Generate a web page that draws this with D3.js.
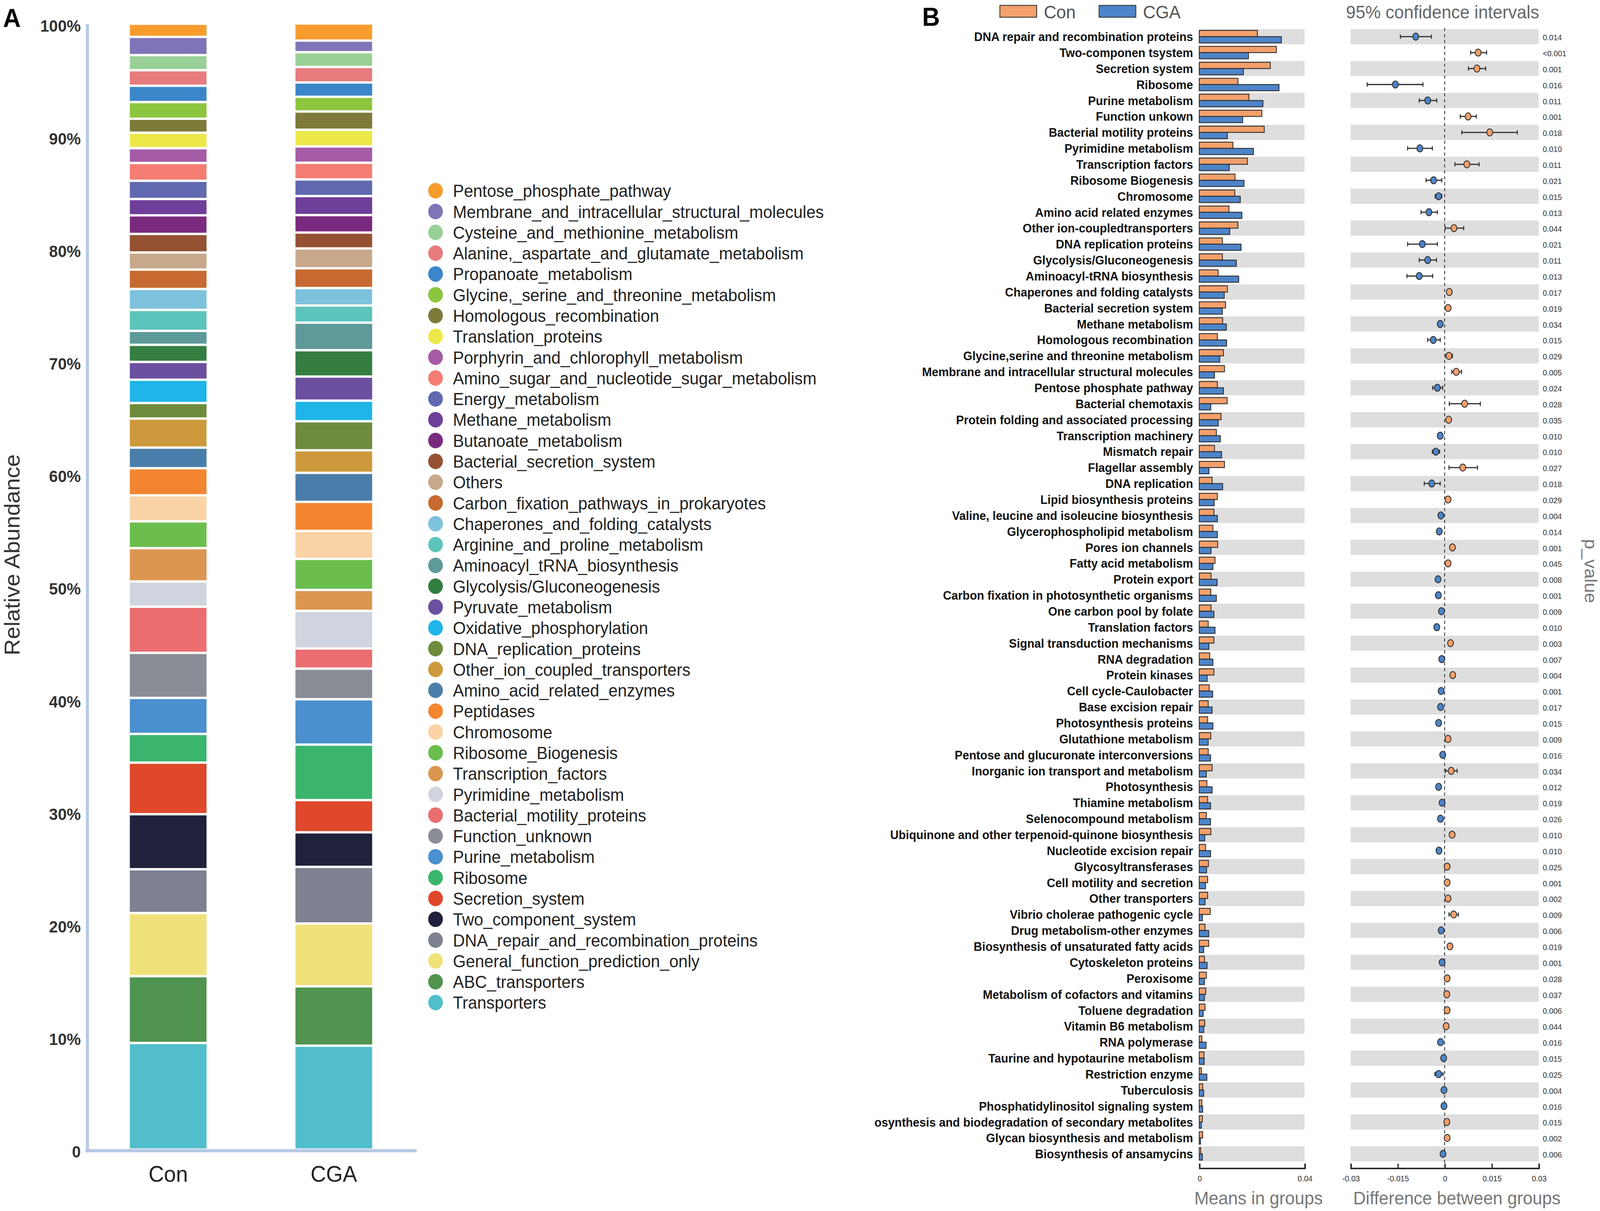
<!DOCTYPE html>
<html>
<head>
<meta charset="utf-8">
<script src="https://cdn.jsdelivr.net/npm/d3@7"></script>
<style>
  html, body { margin: 0; padding: 0; width: 100%; height: 100%; overflow: hidden; background: #fff; }
  #chart { width: 100vw; height: 100vh; }
  svg { display: block; }
</style>
</head>
<body>
<div id="chart"></div>
<script>
// ---------- panel A data (legend order, top of stack first) ----------
const funcCategories = [
  "Pentose_phosphate_pathway", "Membrane_and_intracellular_structural_molecules",
  "Cysteine_and_methionine_metabolism", "Alanine,_aspartate_and_glutamate_metabolism",
  "Propanoate_metabolism", "Glycine,_serine_and_threonine_metabolism",
  "Homologous_recombination", "Translation_proteins",
  "Porphyrin_and_chlorophyll_metabolism", "Amino_sugar_and_nucleotide_sugar_metabolism",
  "Energy_metabolism", "Methane_metabolism", "Butanoate_metabolism",
  "Bacterial_secretion_system", "Others", "Carbon_fixation_pathways_in_prokaryotes",
  "Chaperones_and_folding_catalysts", "Arginine_and_proline_metabolism",
  "Aminoacyl_tRNA_biosynthesis", "Glycolysis/Gluconeogenesis", "Pyruvate_metabolism",
  "Oxidative_phosphorylation", "DNA_replication_proteins", "Other_ion_coupled_transporters",
  "Amino_acid_related_enzymes", "Peptidases", "Chromosome", "Ribosome_Biogenesis",
  "Transcription_factors", "Pyrimidine_metabolism", "Bacterial_motility_proteins",
  "Function_unknown", "Purine_metabolism", "Ribosome", "Secretion_system",
  "Two_component_system", "DNA_repair_and_recombination_proteins",
  "General_function_prediction_only", "ABC_transporters", "Transporters"
];
const categoryColors = [
  "#f89c2e", "#8074b8", "#98d095", "#e77b7e", "#3a86c8", "#8cc63f", "#7e7a3a",
  "#ede84a", "#a65ba6", "#f47d73", "#6069b0", "#6e3f99", "#7a2a7e", "#955233",
  "#c8a88a", "#c76a31", "#7dc2dc", "#5dc4bc", "#5f9a9a", "#347e42", "#6b50a0",
  "#20b5e8", "#6e8b3d", "#cc9a3c", "#4a7eaa", "#f48530", "#f9d3a6", "#6bbe4e",
  "#dc9650", "#d0d4de", "#ea6e70", "#8a8d95", "#4a90ce", "#3bb56e", "#e0482b",
  "#20223c", "#7d8190", "#f0e27a", "#509450", "#52becb"
];
const conAbundance = [
  1.17, 1.62, 1.34, 1.38, 1.45, 1.48, 1.24, 1.38, 1.31, 1.58, 1.62, 1.45, 1.65, 1.65,
  1.52, 1.72, 1.86, 1.86, 1.24, 1.52, 1.58, 2.07, 1.38, 2.58, 1.83, 2.41, 2.31, 2.38,
  2.96, 2.24, 4.10, 4.00, 3.20, 2.55, 4.58, 4.89, 3.89, 5.61, 5.93, 9.47
];
const cgaAbundance = [
  1.52, 1.03, 1.31, 1.38, 1.27, 1.31, 1.62, 1.48, 1.45, 1.48, 1.48, 1.69, 1.55, 1.41,
  1.76, 1.76, 1.55, 1.52, 2.45, 2.34, 2.14, 1.83, 2.58, 2.00, 2.58, 2.58, 2.48, 2.76,
  1.86, 3.34, 1.79, 2.72, 4.03, 4.93, 2.86, 3.07, 5.03, 5.58, 5.27, 9.23
];
const groups = ["Con", "CGA"];
const yTickValues = [0, 10, 20, 30, 40, 50, 60, 70, 80, 90, 100];
const yTickLabels = ["0", "10%", "20%", "30%", "40%", "50%", "60%", "70%", "80%", "90%", "100%"];

// ---------- panel B data ----------
const pathways = [
  "DNA repair and recombination proteins", "Two-componen tsystem", "Secretion system",
  "Ribosome", "Purine metabolism", "Function unkown", "Bacterial motility proteins",
  "Pyrimidine metabolism", "Transcription factors", "Ribosome Biogenesis", "Chromosome",
  "Amino acid related enzymes", "Other ion-coupledtransporters", "DNA replication proteins",
  "Glycolysis/Gluconeogenesis", "Aminoacyl-tRNA biosynthesis",
  "Chaperones and folding catalysts", "Bacterial secretion system", "Methane metabolism",
  "Homologous recombination", "Glycine,serine and threonine metabolism",
  "Membrane and intracellular structural molecules", "Pentose phosphate pathway",
  "Bacterial chemotaxis", "Protein folding and associated processing",
  "Transcription machinery", "Mismatch repair", "Flagellar assembly", "DNA replication",
  "Lipid biosynthesis proteins", "Valine, leucine and isoleucine biosynthesis",
  "Glycerophospholipid metabolism", "Pores ion channels", "Fatty acid metabolism",
  "Protein export", "Carbon fixation in photosynthetic organisms",
  "One carbon pool by folate", "Translation factors", "Signal transduction mechanisms",
  "RNA degradation", "Protein kinases", "Cell cycle-Caulobacter", "Base excision repair",
  "Photosynthesis proteins", "Glutathione metabolism",
  "Pentose and glucuronate interconversions", "Inorganic ion transport and metabolism",
  "Photosynthesis", "Thiamine metabolism", "Selenocompound metabolism",
  "Ubiquinone and other terpenoid-quinone biosynthesis", "Nucleotide excision repair",
  "Glycosyltransferases", "Cell motility and secretion", "Other transporters",
  "Vibrio cholerae pathogenic cycle", "Drug metabolism-other enzymes",
  "Biosynthesis of unsaturated fatty acids", "Cytoskeleton proteins", "Peroxisome",
  "Metabolism of cofactors and vitamins", "Toluene degradation", "Vitamin B6 metabolism",
  "RNA polymerase", "Taurine and hypotaurine metabolism", "Restriction enzyme",
  "Tuberculosis", "Phosphatidylinositol signaling system",
  "osynthesis and biodegradation of secondary metabolites",
  "Glycan biosynthesis and metabolism", "Biosynthesis of ansamycins"
];
const conMeans = [
  0.0221, 0.0293, 0.0270, 0.0147, 0.0189, 0.0238, 0.0247, 0.0128, 0.0183, 0.0136,
  0.0135, 0.0113, 0.0147, 0.0088, 0.0088, 0.0072, 0.0107, 0.0100, 0.0089, 0.0069,
  0.0092, 0.0096, 0.0069, 0.0106, 0.0083, 0.0065, 0.0058, 0.0096, 0.0049, 0.0069,
  0.0056, 0.0052, 0.0070, 0.0060, 0.0045, 0.0044, 0.0045, 0.0034, 0.0056, 0.0040,
  0.0056, 0.0038, 0.0034, 0.0032, 0.0044, 0.0034, 0.0049, 0.0029, 0.0032, 0.0027,
  0.0044, 0.0024, 0.0035, 0.0032, 0.0032, 0.0042, 0.0022, 0.0036, 0.0020, 0.0027,
  0.0025, 0.0022, 0.0021, 0.0010, 0.0018, 0.0008, 0.0013, 0.0010, 0.0012, 0.0013,
  0.0006
];
const cgaMeans = [
  0.0312, 0.0187, 0.0168, 0.0303, 0.0242, 0.0165, 0.0107, 0.0206, 0.0114, 0.0170,
  0.0156, 0.0162, 0.0116, 0.0159, 0.0141, 0.0150, 0.0095, 0.0088, 0.0103, 0.0104,
  0.0078, 0.0058, 0.0092, 0.0044, 0.0072, 0.0080, 0.0085, 0.0037, 0.0089, 0.0057,
  0.0069, 0.0069, 0.0045, 0.0052, 0.0068, 0.0065, 0.0056, 0.0060, 0.0037, 0.0052,
  0.0030, 0.0051, 0.0049, 0.0052, 0.0034, 0.0043, 0.0027, 0.0049, 0.0043, 0.0043,
  0.0021, 0.0043, 0.0028, 0.0024, 0.0022, 0.0012, 0.0036, 0.0017, 0.0030, 0.0020,
  0.0020, 0.0015, 0.0017, 0.0026, 0.0019, 0.0029, 0.0017, 0.0013, 0.0008, 0.0005,
  0.0012
];
const meanDiff = [
  -0.0092, 0.0107, 0.0103, -0.0157, -0.0054, 0.0075, 0.0144, -0.0079, 0.0071, -0.0035,
  -0.0019, -0.0050, 0.0030, -0.0071, -0.0054, -0.0081, 0.0015, 0.0011, -0.0014, -0.0036,
  0.0014, 0.0037, -0.0023, 0.0064, 0.0013, -0.0014, -0.0028, 0.0058, -0.0041, 0.0011,
  -0.0012, -0.0017, 0.0025, 0.0011, -0.0021, -0.0020, -0.0010, -0.0025, 0.0019, -0.0009,
  0.0026, -0.0011, -0.0013, -0.0019, 0.0011, -0.0006, 0.0021, -0.0019, -0.0008, -0.0013,
  0.0024, -0.0018, 0.0008, 0.0008, 0.0011, 0.0029, -0.0011, 0.0017, -0.0008, 0.0008,
  0.0007, 0.0008, 0.0005, -0.0013, -0.0003, -0.0019, -0.0002, -0.0002, 0.0007, 0.0008,
  -0.0005
];
const ciLower = [
  -0.0141, 0.0083, 0.0076, -0.0247, -0.0081, 0.0050, 0.0055, -0.0118, 0.0033, -0.0059,
  -0.0030, -0.0075, 0.0002, -0.0118, -0.0081, -0.0120, 0.0008, 0.0004, -0.0020, -0.0054,
  0.0004, 0.0023, -0.0038, 0.0015, 0.0007, -0.0019, -0.0039, 0.0014, -0.0065, 0.0005,
  -0.0017, -0.0023, 0.0019, 0.0005, -0.0027, -0.0025, -0.0014, -0.0031, 0.0013, -0.0013,
  0.0020, -0.0015, -0.0017, -0.0025, 0.0006, -0.0009, 0.0003, -0.0024, -0.0012, -0.0017,
  0.0016, -0.0022, 0.0005, 0.0005, 0.0007, 0.0014, -0.0015, 0.0012, -0.0011, 0.0005,
  0.0004, 0.0005, 0.0002, -0.0017, -0.0005, -0.0031, -0.0004, -0.0004, 0.0005, 0.0005,
  -0.0008
];
const ciUpper = [
  -0.0042, 0.0134, 0.0131, -0.0069, -0.0025, 0.0101, 0.0232, -0.0039, 0.0110, -0.0009,
  -0.0009, -0.0023, 0.0061, -0.0023, -0.0026, -0.0038, 0.0023, 0.0019, -0.0006, -0.0014,
  0.0025, 0.0054, -0.0006, 0.0114, 0.0019, -0.0008, -0.0016, 0.0105, -0.0014, 0.0018,
  -0.0006, -0.0010, 0.0031, 0.0018, -0.0014, -0.0014, -0.0006, -0.0018, 0.0025, -0.0005,
  0.0032, -0.0007, -0.0009, -0.0013, 0.0016, -0.0003, 0.0040, -0.0014, -0.0004, -0.0009,
  0.0032, -0.0014, 0.0011, 0.0011, 0.0015, 0.0044, -0.0007, 0.0022, -0.0005, 0.0011,
  0.0010, 0.0011, 0.0008, -0.0009, -0.0001, -0.0005, 0.0000, 0.0000, 0.0009, 0.0011,
  -0.0002
];
const pValues = [
  "0.014", "<0.001", "0.001", "0.016", "0.011", "0.001", "0.018", "0.010", "0.011", "0.021",
  "0.015", "0.013", "0.044", "0.021", "0.011", "0.013", "0.017", "0.019", "0.034", "0.015",
  "0.029", "0.005", "0.024", "0.028", "0.035", "0.010", "0.010", "0.027", "0.018", "0.029",
  "0.004", "0.014", "0.001", "0.045", "0.008", "0.001", "0.009", "0.010", "0.003", "0.007",
  "0.004", "0.001", "0.017", "0.015", "0.009", "0.016", "0.034", "0.012", "0.019", "0.026",
  "0.010", "0.010", "0.025", "0.001", "0.002", "0.009", "0.006", "0.019", "0.001", "0.028",
  "0.037", "0.006", "0.044", "0.016", "0.015", "0.025", "0.004", "0.016", "0.015", "0.002",
  "0.006"
];
const meanTicks = [0, 0.04];
const meanTickLabels = ["0", "0.04"];
const diffTicks = [-0.03, -0.015, 0, 0.015, 0.03];
const diffTickLabels = ["-0.03", "-0.015", "0", "0.015", "0.03"];

const conColor = "#f3a06b";
const cgaColor = "#4d84c9";

// ---------- svg (drawn in a 1565 x 1124 frame, stretched over the window) ----------
const W = 1565, H = 1124;
const svg = d3.select("#chart")
  .append("svg")
  .attr("width", "100%")
  .attr("height", "100%")
  .attr("viewBox", `0 0 ${W} ${H}`)
  .attr("preserveAspectRatio", "none")
  .style("font-family", "'Liberation Sans', Arial, sans-serif");

// ================= panel A =================
svg.append("text").attr("x", 3).attr("y", 25)
  .text("A").style("font-size", "24px").style("font-weight", "bold");

const yA = d3.scaleLinear().domain([0, 100]).range([1067, 22]);
const xA = d3.scaleBand().domain(groups).range([83.5, 407.5])
  .paddingInner(0.537).paddingOuter(0.2685);

// stack from the bottom (Transporters) upwards
function stackSegments(values) {
  let acc = 0;
  const segs = [];
  for (let i = values.length - 1; i >= 0; i--) {
    segs.push({ cat: funcCategories[i], color: categoryColors[i], y0: acc, y1: acc + values[i] });
    acc += values[i];
  }
  return segs;
}
const stacks = [
  { group: "Con", segs: stackSegments(conAbundance) },
  { group: "CGA", segs: stackSegments(cgaAbundance) }
];

const barGroups = svg.selectAll(".stack")
  .data(stacks)
  .enter()
  .append("g")
  .attr("class", "stack");

barGroups.selectAll("rect")
  .data(d => d.segs.map(s => Object.assign({ group: d.group }, s)))
  .enter()
  .append("rect")
  .attr("x", d => xA(d.group))
  .attr("width", xA.bandwidth())
  .attr("y", d => yA(d.y1) + 1.1)
  .attr("height", d => Math.max(0.5, yA(d.y0) - yA(d.y1) - 2.2))
  .attr("fill", d => d.color);

// axes
const yAxisA = svg.append("g")
  .attr("transform", "translate(85,0)")
  .call(d3.axisLeft(yA).tickValues(yTickValues)
    .tickFormat((d, i) => yTickLabels[i]).tickSize(0).tickPadding(6));
yAxisA.select(".domain").attr("stroke", "#b7c9e3").attr("stroke-width", 3);
yAxisA.selectAll("text")
  .attr("dy", "0.45em")
  .style("font-size", "15.5px").style("fill", "#333").style("font-weight", "bold")
  .style("font-family", "'Liberation Sans', Arial, sans-serif");

const xAxisA = svg.append("g")
  .attr("transform", "translate(0,1068)")
  .call(d3.axisBottom(xA).tickSize(0).tickPadding(14));
xAxisA.select(".domain").attr("d", "M83.5,0H407.5").attr("stroke", "#b7c9e3").attr("stroke-width", 3);
xAxisA.selectAll("text")
  .style("font-size", "21px").style("fill", "#222")
  .style("font-family", "'Liberation Sans', Arial, sans-serif");

svg.append("text")
  .attr("transform", "translate(19,515) rotate(-90)")
  .attr("text-anchor", "middle")
  .text("Relative Abundance")
  .style("font-size", "21px").style("fill", "#333");

// legend
const legA = svg.selectAll(".legA")
  .data(funcCategories)
  .enter()
  .append("g")
  .attr("class", "legA")
  .attr("transform", (d, i) => `translate(426,${177 + i * 19.32})`);
legA.append("circle").attr("r", 7.2).attr("fill", (d, i) => categoryColors[i]);
legA.append("text").attr("x", 17).attr("dy", "0.36em")
  .text(d => d)
  .style("font-size", "16.2px").style("fill", "#222");

// ================= panel B =================
svg.append("text").attr("x", 902).attr("y", 24)
  .text("B").style("font-size", "24px").style("font-weight", "bold");

// top legend
const legB = svg.append("g");
[["Con", conColor, 978], ["CGA", cgaColor, 1075]].forEach(function(l) {
  legB.append("rect").attr("x", l[2]).attr("y", 5).attr("width", 36).attr("height", 11)
    .attr("fill", l[1]).attr("stroke", "#333").attr("stroke-width", 0.8);
  legB.append("text").attr("x", l[2] + 43).attr("y", 17).text(l[0])
    .style("font-size", "17px").style("fill", "#555");
});
svg.append("text").attr("x", 1411).attr("y", 17).attr("text-anchor", "middle")
  .text("95% confidence intervals").style("font-size", "17px").style("fill", "#666");

const yB = d3.scaleBand().domain(pathways).range([26.6, 1078.4]).paddingInner(0.05).paddingOuter(0.025);
const xMean = d3.scaleLinear().domain([0, 0.04]).range([1173, 1276]);
const xDiff = d3.scaleLinear().domain([-0.03, 0.03]).range([1321, 1505]);
const bw = yB.bandwidth();

const rows = pathways.map((p, i) => ({
  name: p, idx: i, con: conMeans[i], cga: cgaMeans[i],
  diff: meanDiff[i], lo: ciLower[i], hi: ciUpper[i], p: pValues[i]
}));

// alternating grey bands
const striped = rows.filter(d => d.idx % 2 === 0);
svg.selectAll(".bandMean")
  .data(striped).enter().append("rect")
  .attr("x", xMean(0)).attr("width", xMean(0.04) - xMean(0))
  .attr("y", d => yB(d.name)).attr("height", bw)
  .attr("fill", "#dedede");
svg.selectAll(".bandDiff")
  .data(striped).enter().append("rect")
  .attr("x", xDiff(-0.03)).attr("width", xDiff(0.03) - xDiff(-0.03))
  .attr("y", d => yB(d.name)).attr("height", bw)
  .attr("fill", "#dedede");

// row labels
svg.selectAll(".rowLabel")
  .data(rows).enter().append("text")
  .attr("class", "rowLabel")
  .attr("x", 1167)
  .attr("y", d => yB(d.name) + bw / 2)
  .attr("dy", "0.36em")
  .attr("text-anchor", "end")
  .text(d => d.name)
  .style("font-family", "'Liberation Sans Narrow', 'Arial Narrow', sans-serif")
  .style("font-weight", "bold")
  .style("font-size", "11.5px").style("fill", "#111");

// mean bars
const barH = bw * 0.41;
svg.selectAll(".conBar")
  .data(rows).enter().append("rect")
  .attr("x", xMean(0))
  .attr("y", d => yB(d.name) + bw * 0.09)
  .attr("width", d => xMean(d.con) - xMean(0))
  .attr("height", barH)
  .attr("fill", conColor).attr("stroke", "#2a2a2a").attr("stroke-width", 0.8);
svg.selectAll(".cgaBar")
  .data(rows).enter().append("rect")
  .attr("x", xMean(0))
  .attr("y", d => yB(d.name) + bw * 0.09 + barH)
  .attr("width", d => xMean(d.cga) - xMean(0))
  .attr("height", barH)
  .attr("fill", cgaColor).attr("stroke", "#2a2a2a").attr("stroke-width", 0.8);

// zero line
svg.append("line")
  .attr("x1", xDiff(0)).attr("x2", xDiff(0))
  .attr("y1", 26).attr("y2", 1083)
  .attr("stroke", "#444").attr("stroke-width", 0.9).attr("stroke-dasharray", "3,2.5");

// confidence intervals
const ci = svg.selectAll(".ci")
  .data(rows).enter().append("g")
  .attr("transform", d => `translate(0,${yB(d.name) + bw / 2})`);
ci.append("line")
  .attr("x1", d => xDiff(d.lo)).attr("x2", d => xDiff(d.hi))
  .attr("stroke", "#333").attr("stroke-width", 1.1);
ci.append("line")
  .attr("x1", d => xDiff(d.lo)).attr("x2", d => xDiff(d.lo))
  .attr("y1", -2).attr("y2", 2).attr("stroke", "#333").attr("stroke-width", 1);
ci.append("line")
  .attr("x1", d => xDiff(d.hi)).attr("x2", d => xDiff(d.hi))
  .attr("y1", -2).attr("y2", 2).attr("stroke", "#333").attr("stroke-width", 1);
ci.append("ellipse")
  .attr("cx", d => xDiff(d.diff))
  .attr("rx", 2.9).attr("ry", 3.3)
  .attr("fill", d => d.diff > 0 ? conColor : cgaColor)
  .attr("stroke", "#2a2a2a").attr("stroke-width", 0.8);

// p values
svg.selectAll(".pval")
  .data(rows).enter().append("text")
  .attr("x", 1509)
  .attr("y", d => yB(d.name) + bw / 2)
  .attr("dy", "0.45em")
  .text(d => d.p)
  .style("font-family", "'Liberation Sans Narrow', 'Arial Narrow', sans-serif")
  .style("font-size", "7.5px").style("fill", "#333");

svg.append("text")
  .attr("transform", "translate(1550,530) rotate(90)")
  .attr("text-anchor", "middle")
  .text("p_value")
  .style("font-size", "17px").style("fill", "#777");

// bottom axes
function styleAxis(g) {
  g.select(".domain").attr("stroke", "#222").attr("stroke-width", 1.4);
  g.selectAll(".tick line").attr("stroke", "#222").attr("stroke-width", 1.2);
  g.selectAll("text")
    .style("font-family", "'Liberation Sans Narrow', 'Arial Narrow', sans-serif")
    .style("font-size", "7.5px").style("fill", "#333");
}
const axMean = svg.append("g")
  .attr("transform", "translate(0,1084)")
  .call(d3.axisBottom(xMean).tickValues(meanTicks)
    .tickFormat((d, i) => meanTickLabels[i]).tickSize(-4).tickPadding(7));
styleAxis(axMean);
const axDiff = svg.append("g")
  .attr("transform", "translate(0,1084)")
  .call(d3.axisBottom(xDiff).tickValues(diffTicks)
    .tickFormat((d, i) => diffTickLabels[i]).tickSize(-4).tickPadding(7));
styleAxis(axDiff);

svg.append("text").attr("x", 1231).attr("y", 1118).attr("text-anchor", "middle")
  .text("Means in groups").style("font-size", "17px").style("fill", "#777");
svg.append("text").attr("x", 1425).attr("y", 1118).attr("text-anchor", "middle")
  .text("Difference between groups").style("font-size", "17px").style("fill", "#777");
</script>
</body>
</html>
